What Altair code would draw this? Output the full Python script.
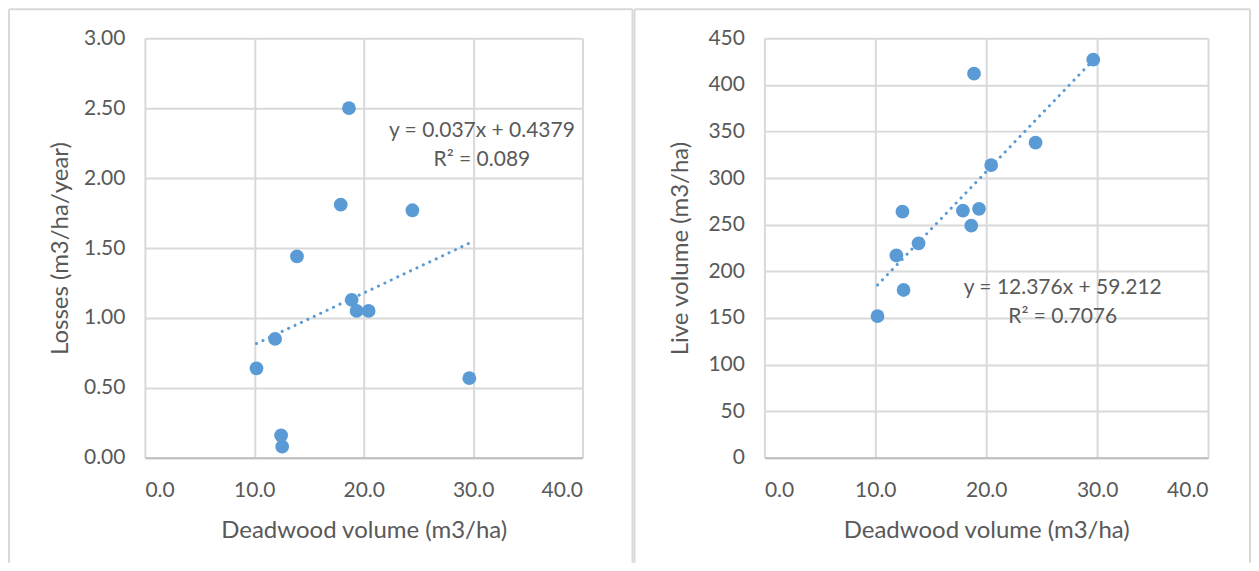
import altair as alt
import pandas as pd

# Data
deadwood = [10.2, 11.9, 12.45, 12.55, 13.9, 17.9, 18.65, 18.9, 19.35, 20.45, 24.45, 29.65]
losses = [0.64, 0.85, 0.16, 0.08, 1.44, 1.81, 2.50, 1.13, 1.05, 1.05, 1.77, 0.57]
live_volume = [152, 217, 264, 180, 230, 265, 249, 412, 267, 314, 338, 427]

left_eq = ["y = 0.037x + 0.4379", "R\u00b2 = 0.089"]
right_eq = ["y = 12.376x + 59.212", "R\u00b2 = 0.7076"]

df = pd.DataFrame({"dead": deadwood, "loss": losses, "live": live_volume})

BLUE = "#5b9bd5"
GRID = "#d9d9d9"
TXT = "#595959"
FONT = "Lato"
H = 420


def panel(ycol, ytitle, ymax, ystep, yfmt, width, eq, eq_x, eq_y, eq_dy,
          bl, br, title_pad):
    ticks_y = [i * ystep for i in range(int(round(ymax / ystep)) + 1)]
    xenc = alt.X("dead:Q", title="Deadwood volume (m3/ha)",
                 scale=alt.Scale(domain=[0, 40], nice=False),
                 axis=alt.Axis(values=[0, 10, 20, 30, 40], format=".1f"))
    yenc = alt.Y(f"{ycol}:Q", title=ytitle,
                 scale=alt.Scale(domain=[0, ymax], nice=False),
                 axis=alt.Axis(values=ticks_y, format=yfmt, titlePadding=title_pad))
    base = alt.Chart(df)
    pts = base.mark_circle(size=190, opacity=1, color=BLUE).encode(x=xenc, y=yenc)
    trend = base.transform_regression("dead", ycol).mark_line(
        color=BLUE, strokeWidth=3, strokeCap="round", strokeDash=[0.1, 7]
    ).encode(x="dead:Q", y=f"{ycol}:Q")
    one = pd.DataFrame({"t": [eq[0]]})
    two = pd.DataFrame({"t": [eq[1]]})
    t1 = alt.Chart(one).mark_text(font=FONT, fontSize=21, color=TXT, align="center",
                                  baseline="middle").encode(
        x=alt.datum(eq_x), y=alt.datum(eq_y), text="t:N")
    t2 = alt.Chart(two).mark_text(font=FONT, fontSize=21, color=TXT, align="center",
                                  baseline="middle").encode(
        x=alt.datum(eq_x), y=alt.datum(eq_y - eq_dy), text="t:N")
    dummy = pd.DataFrame({"a": [0]})
    rl = dict(color=GRID, strokeWidth=2)
    r_left = alt.Chart(dummy).mark_rule(**rl).encode(
        x=alt.value(bl), y=alt.value(-29), y2=alt.value(525))
    r_right = alt.Chart(dummy).mark_rule(**rl).encode(
        x=alt.value(br), y=alt.value(-29), y2=alt.value(525))
    r_top = alt.Chart(dummy).mark_rule(**rl).encode(
        x=alt.value(bl), x2=alt.value(br), y=alt.value(-29))
    return alt.layer(r_left, r_right, r_top, trend, pts, t1, t2).properties(
        width=width, height=H)


left = panel("loss", "Losses (m3/ha/year)", 3.0, 0.5, ".2f", 438,
             left_eq, 30.8, 2.336, 0.207, -136, 488, 11)
right = panel("live", "Live volume (m3/ha)", 450, 50, "d", 444,
              right_eq, 26.9, 181.6, 30.4, -130, 486, 15)

chart = alt.hconcat(left, right, spacing=0).properties(padding=0).configure_view(
    stroke=None
).configure_axis(
    grid=True, gridColor=GRID, gridWidth=2,
    ticks=False, domain=False,
    labelFont=FONT, labelFontSize=21, labelColor=TXT, labelPadding=20,
    titleFont=FONT, titleFontSize=24, titleColor=TXT, titleFontWeight="normal",
).configure_axisX(
    domain=True, domainColor="#bfbfbf", domainWidth=2, labelPadding=22, titlePadding=18
)

chart.save("out.html", embed_options={"renderer": "svg", "actions": False})
